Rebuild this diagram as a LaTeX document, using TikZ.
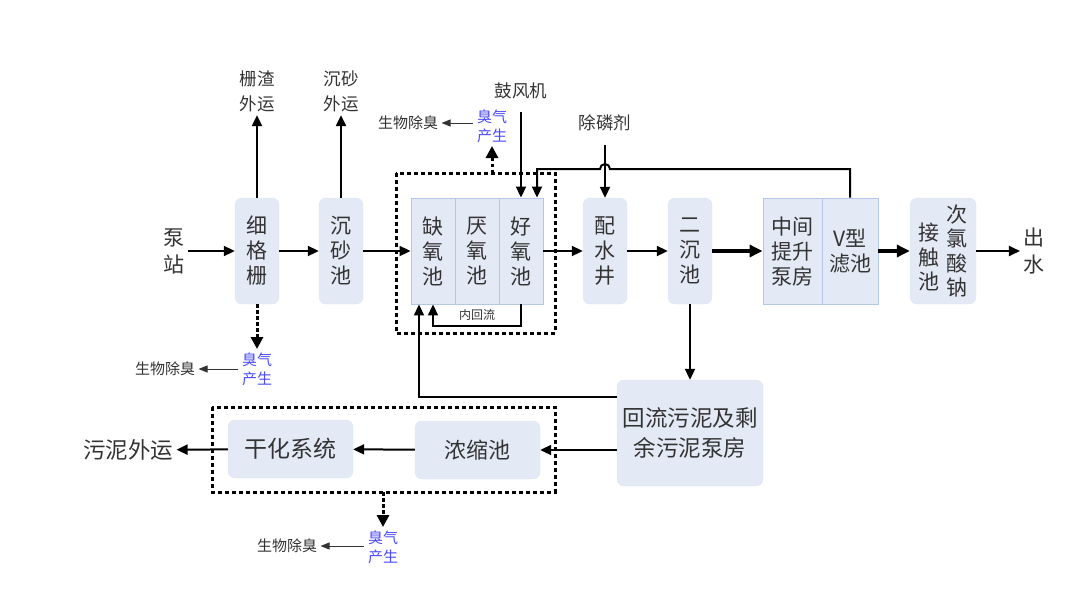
\documentclass[tikz,border=0pt]{standalone}
\usepackage{fontspec}
\setmainfont{Noto Sans CJK SC}
\usetikzlibrary{arrows.meta}
\definecolor{boxfill}{HTML}{E3EAF6}
\definecolor{boxedge}{HTML}{B4C7E7}
\definecolor{odorblue}{HTML}{4B4BFF}
\definecolor{ink}{HTML}{333333}
\tikzset{
  unit/.style={fill=boxfill,draw=boxfill!85!boxedge,rounded corners=7pt,inner sep=0pt,
    align=center,text=ink,font=\fontsize{21}{25}\selectfont},
  cell/.style={unit,rounded corners=0pt,draw=boxedge,line width=0.9pt},
  flow/.style={line width=2pt,-{Triangle[length=11pt,width=10pt]}},
  bigflow/.style={line width=3.4pt,-{Triangle[length=13pt,width=12pt]}},
  odor/.style={line width=3pt,dash pattern=on 3.5pt off 2.5pt,-{Triangle[length=12pt,width=12pt]}},
  zone/.style={line width=3pt,dash pattern=on 4pt off 3pt},
  vent/.style={line width=1pt,draw=ink,-{Triangle[length=9pt,width=7pt]}},
  lbl/.style={text=ink,align=center,font=\fontsize{17.5}{25}\selectfont},
  gas/.style={text=odorblue,align=center,font=\fontsize{15}{19}\selectfont},
  deo/.style={text=ink,font=\fontsize{15}{19}\selectfont},
}
\begin{document}
\begin{tikzpicture}[x=1pt,y=-1pt]
  \useasboundingbox (0,0) rectangle (1080,608);
  % water line
  \node[lbl,font=\fontsize{21}{27}\selectfont] (pumpst) at (174,251) {泵\\站};
  \node[unit,minimum width=44pt,minimum height=106pt] (screen) at (257,251) {细\\格\\栅};
  \node[unit,minimum width=44pt,minimum height=106pt] (grit) at (341,251) {沉\\砂\\池};
  \node[cell,minimum width=44pt,minimum height=106pt] (anox) at (433,251) {缺\\氧\\池};
  \node[cell,minimum width=44pt,minimum height=106pt] (anaer) at (477,251) {厌\\氧\\池};
  \node[cell,minimum width=44pt,minimum height=106pt] (aero) at (521,251) {好\\氧\\池};
  \node[unit,minimum width=44pt,minimum height=106pt] (distr) at (605,251) {配\\水\\井};
  \node[unit,minimum width=44pt,minimum height=106pt] (sedi) at (690,251) {二\\沉\\池};
  \node[cell,minimum width=59pt,minimum height=106pt] (lift) at (792.5,251) {中间\\提升\\泵房};
  \node[cell,minimum width=56pt,minimum height=106pt] (vfil) at (850,251) {V型\\滤池};
  \node[unit,minimum width=66pt,minimum height=106pt] (contact) at (943,251) {};
  \node[text=ink,align=center,font=\fontsize{21}{24.4}\selectfont] (contactA) at (957,251) {次\\氯\\酸\\钠};
  \node[text=ink,align=center,font=\fontsize{21}{24.4}\selectfont] (contactB) at (929,257) {接\\触\\池};
  \node[lbl,font=\fontsize{21}{27}\selectfont] (outlet) at (1034,251) {出\\水};
  % sludge line
  \node[unit,minimum width=146pt,minimum height=106pt,font=\fontsize{22.5}{30}\selectfont] (pump) at (690,433) {回流污泥及剩\\余污泥泵房};
  \node[unit,minimum width=125pt,minimum height=58pt,font=\fontsize{22}{26}\selectfont] (thick) at (477.5,450) {浓缩池};
  \node[unit,minimum width=125pt,minimum height=58pt,font=\fontsize{23}{26}\selectfont] (dry) at (290.5,449) {干化系统};
  \node[lbl,font=\fontsize{22.5}{26}\selectfont] (sludgeout) at (128,450) {污泥外运};
  % side labels
  \node[lbl] (screenout) at (257,91) {栅渣\\外运};
  \node[lbl] (gritout) at (341,91) {沉砂\\外运};
  \node[lbl] (blower) at (521,91) {鼓风机};
  \node[lbl] (dephos) at (605,123) {除磷剂};
  \node[text=ink,font=\fontsize{12}{12}\selectfont] (inner) at (477,315) {内回流};
  \node[gas] (gas1) at (492,126) {臭气\\产生};
  \node[deo] (deo1) at (408,123) {生物除臭};
  \node[gas] (gas2) at (257,369) {臭气\\产生};
  \node[deo] (deo2) at (165,369) {生物除臭};
  \node[gas] (gas3) at (383,547) {臭气\\产生};
  \node[deo] (deo3) at (287,546) {生物除臭};
  % odour zones
  \draw[zone] (396,173) rectangle (555,333);
  \draw[zone] (212,407) rectangle (555,492);
  \coordinate (zone1top) at (492,173);
  \coordinate (zone2bot) at (383,492);
  % connectors
  \draw[flow] (pumpst) -- (screen);
  \draw[flow] (screen) -- (grit);
  \draw[flow] (grit) -- (anox);
  \draw[flow] (aero) -- (distr);
  \draw[flow] (distr) -- (sedi);
  \draw[bigflow] (sedi) -- (lift);
  \draw[bigflow] (vfil) -- (contact);
  \draw[flow] (contact) -- (outlet);
  \draw[flow] (screen.north) -- (screenout);
  \draw[flow] (grit.north) -- (gritout);
  \draw[flow] ([yshift=-9pt]blower.south) -- (aero.north);
  \draw[flow] ([yshift=-10pt]dephos.south) -- (distr.north);
  \draw[flow] (vfil.north) |- (610,169) arc[start angle=0,end angle=-180,radius=5]
    -| ([xshift=16pt]aero.north);
  \draw[flow] (aero.south) -- ++(0,22) -| (anox.south);
  \draw[flow] (sedi) -- (pump);
  \draw[flow] ([yshift=36pt]pump.west) -| ([xshift=-14pt]anox.south);
  \draw[flow] (pump.west |- thick) -- (thick);
  \draw[flow] (thick) -- (dry);
  \draw[flow] (dry) -- (sludgeout);
  \draw[odor] (zone1top) -- (gas1);
  \draw[odor] (screen.south) -- (gas2);
  \draw[odor] (zone2bot) -- (gas3);
  \draw[vent] (gas1.west |- deo1) -- (deo1);
  \draw[vent] (gas2.west |- deo2) -- (deo2);
  \draw[vent] (gas3.west |- deo3) -- (deo3);
\end{tikzpicture}
\end{document}
